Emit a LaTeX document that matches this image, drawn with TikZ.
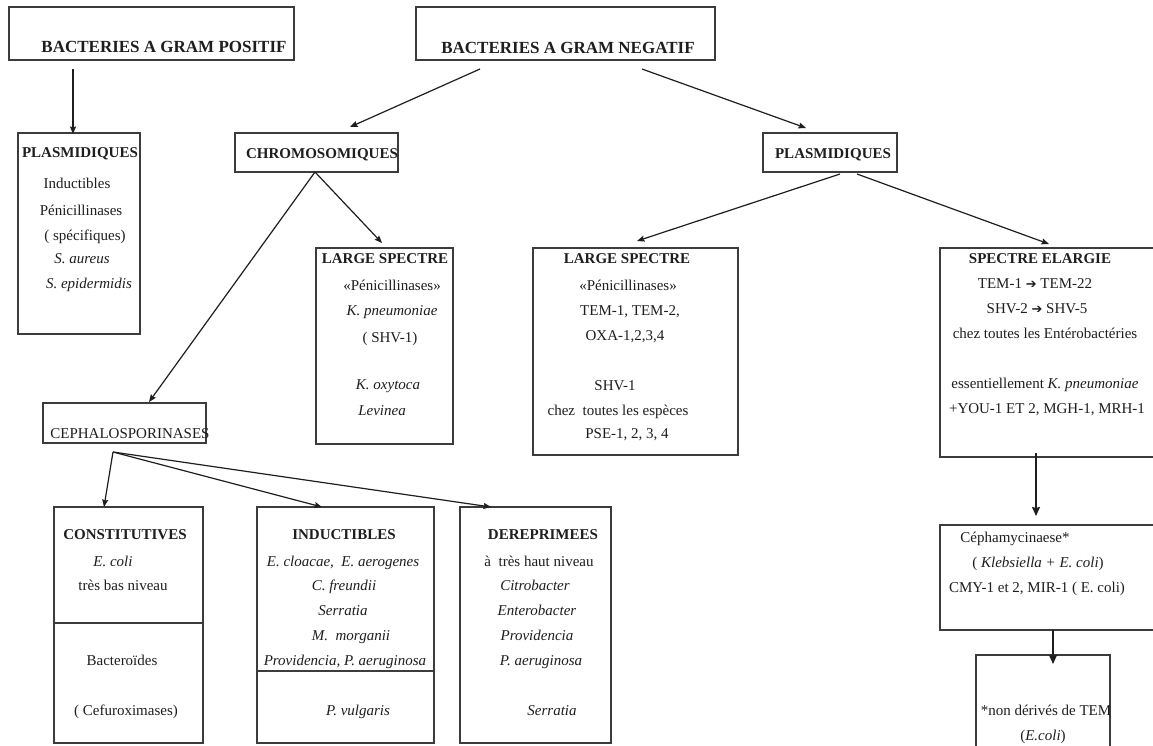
\documentclass[tikz,border=0pt]{standalone}
\usepackage{fontspec}
\setmainfont{Liberation Serif}
\newfontfamily\arrowfont{DejaVu Sans}
\usetikzlibrary{arrows.meta}
\definecolor{ink}{RGB}{30,30,30}
\definecolor{edge}{RGB}{60,60,60}
\newcommand\tarrow{{\arrowfont\fontsize{13}{14}\selectfont ➔}}
\begin{document}
\begin{tikzpicture}[x=1pt,y=-1pt,
 box/.style={draw=edge,line width=1.4pt,anchor=north west,inner sep=0pt,outer sep=0pt},
 divider/.style={draw=edge,line width=1.4pt},
 txt/.style={anchor=mid,yshift=-3pt,inner sep=0pt,text=ink,font=\fontsize{15}{17}\selectfont},
 hd/.style={txt,font=\fontsize{15}{17}\selectfont\bfseries},
 big/.style={txt,font=\fontsize{17}{19}\selectfont\bfseries},
 conn/.style={draw=ink,line width=1.2pt,-{Stealth[length=7.5pt,width=6pt,inset=1pt]}},
 bigconn/.style={draw=ink,line width=1.5pt,-{Stealth[length=9pt,width=8pt,inset=1pt]}}]
\fill[white] (0,0) rectangle (1153,745);
\useasboundingbox (0,0) rectangle (1153,745);
\clip (0,0) rectangle (1153,745);

% boxes
\node[box,minimum width=285pt,minimum height=53pt] (gpos) at (9,7) {};
\node[box,minimum width=299pt,minimum height=53pt] (gneg) at (416,7) {};
\node[box,minimum width=122pt,minimum height=201pt] (plasL) at (18,133) {};
\node[box,minimum width=163pt,minimum height=39pt] (chrom) at (235,133) {};
\node[box,minimum width=134pt,minimum height=39pt] (plasR) at (763,133) {};
\node[box,minimum width=137pt,minimum height=196pt] (lsC) at (316,248) {};
\node[box,minimum width=205pt,minimum height=207pt] (lsP) at (533,248) {};
\node[box,minimum width=230pt,minimum height=209pt] (se) at (940,248) {};
\node[box,minimum width=163pt,minimum height=40pt] (ceph) at (43,403) {};
\node[box,minimum width=149pt,minimum height=236pt] (const) at (54,507) {};
\node[box,minimum width=177pt,minimum height=236pt] (induc) at (257,507) {};
\node[box,minimum width=151pt,minimum height=236pt] (derep) at (460,507) {};
\node[box,minimum width=230pt,minimum height=105pt] (cepham) at (940,525) {};
\node[box,minimum width=134pt,minimum height=105pt] (nonder) at (976,655) {};

\coordinate (dc) at (0,623);
\coordinate (di) at (0,671);
\draw[divider] (const.west |- dc) -- (const.east |- dc);
\draw[divider] (induc.west |- di) -- (induc.east |- di);

% texts
\node[big] (tgpos) at (164,47.5) {BACTERIES A GRAM POSITIF};
\node[big] (tgneg) at (568,48) {BACTERIES A GRAM NEGATIF};

\node[hd] (tpl1) at (80,152) {PLASMIDIQUES};
\node[txt] (tpl2) at (77,183) {Inductibles};
\node[txt] (tpl3) at (81,210) {Pénicillinases};
\node[txt] (tpl4) at (85,235) {( spécifiques)};
\node[txt] (tpl5) at (82,258) {\textit{S. aureus}};
\node[txt] (tpl6) at (89,283) {\textit{S. epidermidis}};

\node[hd] (tchrom) at (322,153) {CHROMOSOMIQUES};
\node[hd] (tplasR) at (833,153) {PLASMIDIQUES};

\node[hd] (tlc1) at (385,258) {LARGE SPECTRE};
\node[txt] (tlc2) at (392,285) {«Pénicillinases»};
\node[txt] (tlc3) at (392,310) {\textit{K. pneumoniae}};
\node[txt] (tlc4) at (390,337) {( SHV-1)};
\node[txt] (tlc5) at (388,384) {\textit{K. oxytoca}};
\node[txt] (tlc6) at (382,410) {\textit{Levinea}};

\node[hd] (tlp1) at (627,258) {LARGE SPECTRE};
\node[txt] (tlp2) at (628,285) {«Pénicillinases»};
\node[txt] (tlp3) at (630,310) {TEM-1, TEM-2,};
\node[txt] (tlp4) at (625,335) {OXA-1,2,3,4};
\node[txt] (tlp5) at (615,385) {SHV-1};
\node[txt] (tlp6) at (618,410) {chez\ \ toutes les espèces};
\node[txt] (tlp7) at (627,433) {PSE-1, 2, 3, 4};

\node[hd] (tse1) at (1040,258) {SPECTRE ELARGIE};
\node[txt] (tse2) at (1035,283) {TEM-1 \tarrow\ TEM-22};
\node[txt] (tse3) at (1037,308) {SHV-2 \tarrow\ SHV-5};
\node[txt] (tse4) at (1045,333) {chez toutes les Entérobactéries};
\node[txt] (tse5) at (1045,383) {essentiellement \textit{K. pneumoniae}};
\node[txt] (tse6) at (1047,408) {+YOU-1 ET 2, MGH-1, MRH-1};

\node[txt] (tceph) at (130,433) {CEPHALOSPORINASES};

\node[hd] (tco1) at (125,534) {CONSTITUTIVES};
\node[txt] (tco2) at (113,561) {\textit{E. coli}};
\node[txt] (tco3) at (123,585) {très bas niveau};
\node[txt] (tco4) at (122,660) {Bacteroïdes};
\node[txt] (tco5) at (126,710) {( Cefuroximases)};

\node[hd] (tin1) at (344,534) {INDUCTIBLES};
\node[txt] (tin2) at (343,561) {\textit{E. cloacae,\ \ E. aerogenes}};
\node[txt] (tin3) at (344,585) {\textit{C. freundii}};
\node[txt] (tin4) at (343,610) {\textit{Serratia}};
\node[txt] (tin5) at (351,635) {\textit{M.\ \ morganii}};
\node[txt] (tin6) at (345,660) {\textit{Providencia, P. aeruginosa}};
\node[txt] (tin7) at (358,710) {\textit{P. vulgaris}};

\node[hd] (tde1) at (543,534) {DEREPRIMEES};
\node[txt] (tde2) at (539,561) {à\ \ très haut niveau};
\node[txt] (tde3) at (535,585) {\textit{Citrobacter}};
\node[txt] (tde4) at (537,610) {\textit{Enterobacter}};
\node[txt] (tde5) at (537,635) {\textit{Providencia}};
\node[txt] (tde6) at (541,660) {\textit{P. aeruginosa}};
\node[txt] (tde7) at (552,710) {\textit{Serratia}};

\node[txt] (tcm1) at (1015,537) {Céphamycinaese*};
\node[txt] (tcm2) at (1038,562) {( \textit{Klebsiella + E. coli})};
\node[txt] (tcm3) at (1037,587) {CMY-1 et 2, MIR-1 ( E. coli)};

\node[txt] (tnd1) at (1046,710) {*non dérivés de TEM};
\node[txt] (tnd2) at (1043,735) {(\textit{E.coli})};

% connector end points
\coordinate (s1) at (73,69);   \coordinate (e1) at (73,134);
\coordinate (s2) at (480,69);  \coordinate (e2) at (350,127);
\coordinate (s3) at (642,69);  \coordinate (e3) at (806,128);
\coordinate (s4) at (315,172); \coordinate (e4) at (149,402);
\coordinate (e5) at (382,243);
\coordinate (s6) at (840,174); \coordinate (e6) at (637,241);
\coordinate (s7) at (857,174); \coordinate (e7) at (1049,244);
\coordinate (s8) at (113,452); \coordinate (e8) at (104,507);
\coordinate (e9) at (322,507);
\coordinate (e10) at (491,507);
\coordinate (s11) at (1036,453); \coordinate (e11) at (1036,516);
\coordinate (s12) at (1053,630); \coordinate (e12) at (1053,664);

\draw[conn] (s1) -- (e1);
\draw[conn] (s2) -- (e2);
\draw[conn] (s3) -- (e3);
\draw[conn] (s4) -- (e4);
\draw[conn] (s4) -- (e5);
\draw[conn] (s6) -- (e6);
\draw[conn] (s7) -- (e7);
\draw[conn] (s8) -- (e8);
\draw[conn] (s8) -- (e9);
\draw[conn] (s8) -- (e10);
\draw[bigconn] (s11) -- (e11);
\draw[bigconn] (s12) -- (e12);
\end{tikzpicture}
\end{document}
